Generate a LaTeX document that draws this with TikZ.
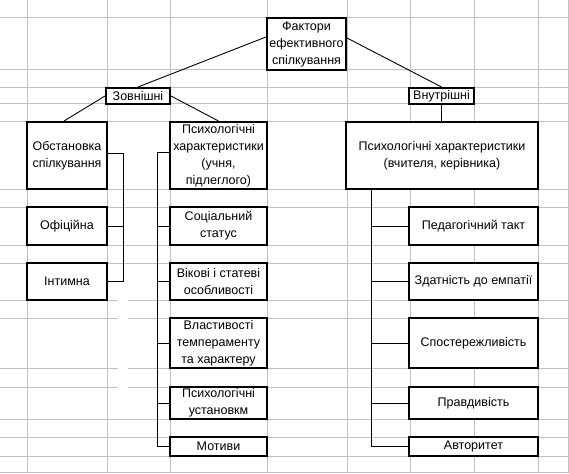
\documentclass[tikz,border=0pt]{standalone}
\usepackage{fontspec}
\setmainfont{Liberation Sans}
\usetikzlibrary{calc}
\definecolor{gridgray}{HTML}{C0C0C0}
\tikzset{
  box/.style={draw=black, line width=2pt, inner sep=0pt, align=center,
    font=\fontsize{12.5}{17}\selectfont, fill=white},
  conn/.style={draw=black, line width=0.9pt},
  gridline/.style={draw=gridgray, line width=1pt}
}
\begin{document}
\begin{tikzpicture}[x=1pt, y=-1pt]
\useasboundingbox (0,0) rectangle (569,473);
\fill[white] (0,0) rectangle (569,473);
% spreadsheet grid
\foreach \gx in {27,107,170,267,347,410,474,538,568}
  \draw[gridline] (\gx,0) -- (\gx,473);
\foreach \gy in {18,70,88,104,122,189,207,245,263,300,318,368,387,419,437,456,472}
  \draw[gridline] (0,\gy) -- (569,\gy);
\fill[white] (118,296) rectangle (127.5,391);

% boxes
\node[box, minimum width=79pt, minimum height=52pt] (top) at (306.5,44) {Фактори\\ефективного\\спілкування};
\node[box, minimum width=64pt, minimum height=16pt] (zov) at (138,96) {Зовнішні};
\node[box, minimum width=65pt, minimum height=16pt] (vnu) at (441.5,96) {Внутрішні};
\node[box, minimum width=80pt, minimum height=67pt] (obst) at (67,155.5) {Обстановка\\спілкування};
\node[box, minimum width=97pt, minimum height=67pt] (psu) at (218.5,155.5) {Психологічні\\характеристики\\(учня,\\підлеглого)};
\node[box, minimum width=192pt, minimum height=67pt] (psv) at (442,155.5) {Психологічні характеристики\\(вчителя, керівника)};
\node[box, minimum width=80pt, minimum height=38pt] (ofic) at (67,226) {Офіційна};
\node[box, minimum width=80pt, minimum height=37pt] (intym) at (67,281.5) {Інтимна};
\node[box, minimum width=97pt, minimum height=38pt] (soc) at (218.5,226) {Соціальний\\статус};
\node[box, minimum width=97pt, minimum height=37pt] (vik) at (218.5,281.5) {Вікові і статеві\\особливості};
\node[box, minimum width=97pt, minimum height=50pt] (vlas) at (218.5,343) {Властивості\\темпераменту\\та характеру};
\node[box, minimum width=97pt, minimum height=32pt] (ust) at (218.5,403) {Психологічні\\установкм};
\node[box, minimum width=97pt, minimum height=19pt] (mot) at (218.5,446.5) {Мотиви};
\node[box, minimum width=129pt, minimum height=38pt] (ped) at (473.5,226) {Педагогічний такт};
\node[box, minimum width=129pt, minimum height=37pt] (zdat) at (473.5,281.5) {Здатність до емпатії};
\node[box, minimum width=129pt, minimum height=50pt] (spos) at (473.5,343) {Спостережливість};
\node[box, minimum width=129pt, minimum height=32pt] (prav) at (473.5,403) {Правдивість};
\node[box, minimum width=129pt, minimum height=19pt] (avt) at (473.5,446.5) {Авторитет};

% trunk coordinates
\coordinate (obx) at (123,0);
\coordinate (psux) at (157,0);
\coordinate (psvx) at (371,0);

% connectors
\draw[conn] ([yshift=7pt]top.west) -- (zov.north);
\draw[conn] ([yshift=6pt]top.east) -- (vnu.north);
\draw[conn] (zov.west) -- ([xshift=-3pt]obst.north);
\draw[conn] (zov.east) -- (psu.north);
\draw[conn] (vnu.south) -- (vnu.south |- psv.north);

\draw[conn] ([yshift=2pt]obst.east) -| (obx |- intym.east) -- (intym.east);
\draw[conn] (ofic.east) -- (obx |- ofic.east);

\draw[conn] ([yshift=3pt]psu.west) -| (psux |- mot.west) -- (mot.west);
\foreach \n in {soc,vik,vlas,ust}
  \draw[conn] (\n.west) -- (psux |- \n.west);

\draw[conn] (psvx |- psv.south) -- (psvx |- avt.west) -- (avt.west);
\foreach \n in {ped,zdat,spos,prav}
  \draw[conn] (\n.west) -- (psvx |- \n.west);
\end{tikzpicture}
\end{document}
